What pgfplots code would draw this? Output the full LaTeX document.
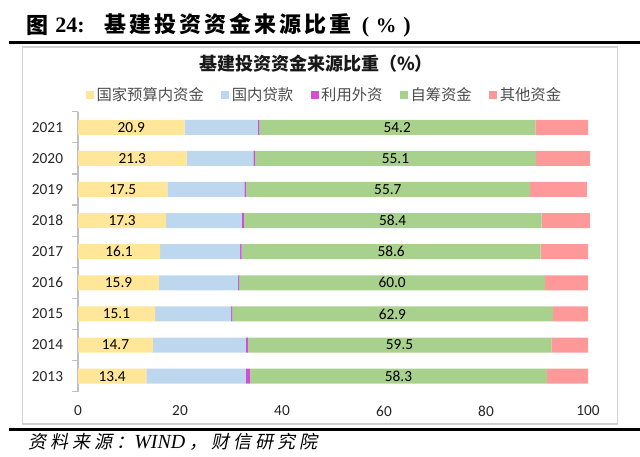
\documentclass[border=0pt]{standalone}
\usepackage{fontspec}
\usepackage{pgfplots}
\pgfplotsset{compat=1.18}
\usepackage{pgfplotstable}
\setmainfont{Carlito}
\newfontfamily\cjk{Noto Sans CJK SC}
\newfontfamily\cjksl{Noto Sans CJK SC}[FakeSlant=0.2]
\newfontfamily\tnr{Liberation Serif}
\definecolor{cA}{HTML}{FFE699}
\definecolor{cB}{HTML}{BDD7EE}
\definecolor{cC}{HTML}{D24DD8}
\definecolor{cD}{HTML}{A9D18E}
\definecolor{cE}{HTML}{FF9999}
\pgfplotstableread{
idx a b c d e
0 13.4 19.5 0.8 58.3 8.0
1 14.7 18.2 0.4 59.5 7.2
2 15.1 14.9 0.2 62.9 6.9
3 15.9 15.5 0.2 60.0 8.4
4 16.1 15.7 0.3 58.6 9.3
5 17.3 14.8 0.4 58.4 9.5
6 17.5 15.1 0.3 55.7 11.2
7 21.3 13.1 0.3 55.1 10.6
8 20.9 14.3 0.3 54.2 10.3
}\data
\newcommand\tsp{\hspace{2.25pt}}
\newcommand\ssp{\hspace{3pt}}
\begin{document}
\begin{tikzpicture}
\path[use as bounding box] (0,0) rectangle (480pt,-342.75pt);
\draw[color=black!18, line width=1.1pt] (17pt,-35.25pt) rectangle (463pt,-318pt);
\draw[line width=2.25pt] (7pt,-31.5pt) -- (480pt,-31.5pt);
\draw[line width=2.25pt] (7pt,-322pt) -- (480pt,-322pt);
% main title
\node[anchor=west, inner sep=0pt] at (19.5pt,-19pt) {\cjk\bfseries\fontsize{16.5}{17}\selectfont 图};
\node[anchor=west, inner sep=0pt] at (41.25pt,-19pt) {\tnr\bfseries\fontsize{16.5}{17}\selectfont 24:};
\node[anchor=west, inner sep=0pt] at (78pt,-19pt) {\cjk\bfseries\fontsize{16.5}{17}\selectfont 基\tsp 建\tsp 投\tsp 资\tsp 资\tsp 金\tsp 来\tsp 源\tsp 比\tsp 重\hspace{8pt}{\tnr\bfseries(}\hspace{5pt}{\tnr\bfseries\fontsize{15.5}{16}\selectfont\%}\hspace{5pt}{\tnr\bfseries)}};
% chart title
\node[inner sep=0pt, text=black!90] at (237pt,-48pt) {\cjk\bfseries\fontsize{13.5}{14}\selectfont 基建投资资金来源比重（\%）};
% source
\node[anchor=west, inner sep=0pt] at (21pt,-331.5pt) {\cjksl\fontsize{13.5}{14}\selectfont 资\ssp 料\ssp 来\ssp 源\ssp ：{\tnr\itshape\fontsize{15}{15}\selectfont WIND}\ssp ，\ssp 财\ssp 信\ssp 研\ssp 究\ssp 院};
\begin{axis}[
  at={(58.5pt,-293.775pt)}, anchor=south west,
  scale only axis, width=382.5pt, height=210pt,
  xbar stacked, bar width=11.25pt,
  clip=false,
  xmin=0, xmax=100, ymin=-0.5, ymax=8.5,
  axis x line*=bottom, axis y line*=left,
  x axis line style={draw=none},
  y axis line style={-, draw=black!25, line width=0.9pt},
  xtick={0,20,40,60,80,100},
  ytick={0,1,2,3,4,5,6,7,8},
  yticklabels={2013,2014,2015,2016,2017,2018,2019,2020,2021},
  minor ytick={-0.5,0.5,1.5,2.5,3.5,4.5,5.5,6.5,7.5,8.5},
  major tick length=0pt, minor tick length=4.5pt,
  tick align=outside,
  minor tick style={draw=black!25, line width=0.9pt},
  tick label style={font=\fontsize{11.5}{12}\selectfont, text=black!85},
  /pgf/number format/assume math mode=true,
  yticklabel style={xshift=-7.7pt},
  xticklabel style={yshift=-7pt},
  legend image code/.code={\fill[#1] (0pt,-3pt) rectangle (6pt,3pt);},
  legend style={at={(0.484,1.0596)}, anchor=center, draw=none, fill=none,
    font=\cjk\fontsize{11.5}{12}\selectfont, text=black!70,
    /tikz/every even column/.append style={column sep=11pt}},
  legend columns=5,
]
\addplot[fill=cA, draw=none] table[x=a, y=idx] {\data};
\addplot[fill=cB, draw=none] table[x=b, y=idx] {\data};
\addplot[fill=cC, draw=none] table[x=c, y=idx] {\data};
\addplot[fill=cD, draw=none] table[x=d, y=idx] {\data};
\addplot[fill=cE, draw=none] table[x=e, y=idx] {\data};
\legend{国家预算内资金, 国内贷款, 利用外资, 自筹资金, 其他资金}
\end{axis}
\begin{axis}[
  at={(58.5pt,-293.775pt)}, anchor=south west,
  scale only axis, width=382.5pt, height=210pt,
  xmin=0, xmax=100, ymin=-0.5, ymax=8.5,
  hide axis, clip=false,
  /pgf/number format/fixed, /pgf/number format/fixed zerofill,
  /pgf/number format/precision=1, /pgf/number format/assume math mode=true,
  every node near coord/.append style={anchor=center, font=\fontsize{11.5}{12}\selectfont, text=black},
]
\addplot[only marks, mark=*, mark size=0pt, mark options={draw=none, fill=none},
  nodes near coords, point meta=\thisrow{a}]
  table[x expr=\thisrow{a}/2, y=idx] {\data};
\addplot[only marks, mark=*, mark size=0pt, mark options={draw=none, fill=none},
  nodes near coords, point meta=\thisrow{d}]
  table[x expr=\thisrow{a}+\thisrow{b}+\thisrow{c}+\thisrow{d}/2, y=idx] {\data};
\end{axis}
\end{tikzpicture}
\end{document}
